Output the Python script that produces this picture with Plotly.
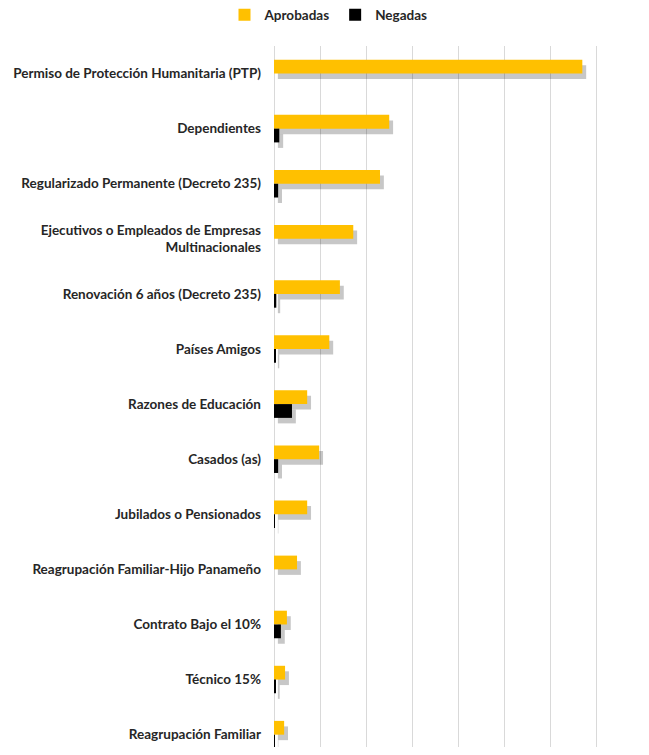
import plotly.graph_objects as go

categories = [
    "Permiso de Protección Humanitaria (PTP)",
    "Dependientes",
    "Regularizado Permanente (Decreto 235)",
    "Ejecutivos o Empleados de Empresas<br>Multinacionales",
    "Renovación 6 años (Decreto 235)",
    "Países Amigos",
    "Razones de Educación",
    "Casados (as)",
    "Jubilados o Pensionados",
    "Reagrupación Familiar-Hijo Panameño",
    "Contrato Bajo el 10%",
    "Técnico 15%",
    "Reagrupación Familiar",
]
aprobadas = [33450, 12500, 11500, 8600, 7150, 6000, 3600, 4900, 3600, 2500, 1400, 1200, 1100]
negadas = [0, 575, 450, 0, 250, 150, 1950, 450, 50, 0, 750, 200, 50]

YELLOW = "#FFC000"
BLACK = "#000000"
SHADOW = "rgba(0,0,0,0.22)"
BW = 0.25  # bar thickness in category units
SX = 420   # shadow shift along value axis
SY = 0.1   # shadow shift along category axis

fig = go.Figure()

# shadows
for vals, off in [(aprobadas, -BW), (negadas, 0.0)]:
    fig.add_trace(go.Bar(
        y=categories, x=vals, base=[SX] * len(vals), orientation="h",
        offset=off + SY, width=BW, marker=dict(color=SHADOW, line=dict(width=0)),
        showlegend=False, hoverinfo="skip",
    ))

fig.add_trace(go.Bar(
    y=categories, x=aprobadas, orientation="h", name="<b>Aprobadas</b>",
    offset=-BW, width=BW, marker=dict(color=YELLOW, line=dict(width=0)),
))
fig.add_trace(go.Bar(
    y=categories, x=negadas, orientation="h", name="<b>Negadas</b>",
    offset=0.0, width=BW, marker=dict(color=BLACK, line=dict(width=0)),
))

fig.update_layout(
    width=641, height=739,
    barmode="overlay",
    paper_bgcolor="white", plot_bgcolor="white",
    margin=dict(l=266, r=4, t=38, b=0, autoexpand=False),
    font=dict(family="Lato, Carlito, Calibri, sans-serif", size=13.5, color="#262626"),
    legend=dict(
        orientation="h", xref="container", x=0.5, xanchor="center",
        yref="container", y=1 - 7 / 739, yanchor="middle",
        font=dict(size=13.5, color="#262626"),
        itemwidth=30, traceorder="normal",
    ),
    xaxis=dict(
        range=[0, 40250], tickvals=[0, 5000, 10000, 15000, 20000, 25000, 30000, 35000, 40000],
        showticklabels=False,
        showgrid=True, gridcolor="#D9D9D9", gridwidth=1.3,
        zeroline=True, zerolinecolor="#D9D9D9", zerolinewidth=1.3,
        showline=False, fixedrange=True, automargin=False,
    ),
    yaxis=dict(
        type="category", categoryorder="array", categoryarray=categories,
        range=[12.224, -0.5], showgrid=False, showline=False, ticks="",
        ticklabelstandoff=12, automargin=False,
        tickfont=dict(size=13.5, weight="bold", color="#262626"),
    ),
    showlegend=True,
)

fig.write_html("out.html")
